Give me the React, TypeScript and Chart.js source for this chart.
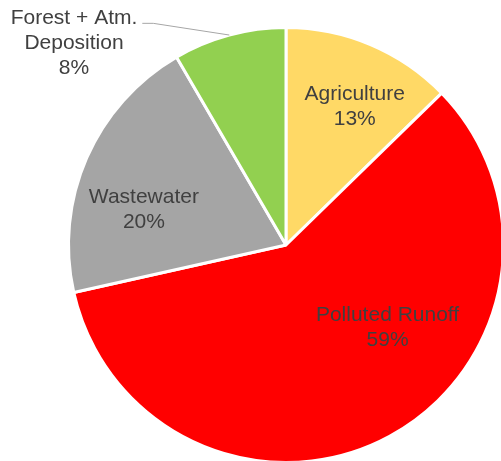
import React, { useEffect, useRef } from "react";
import { Chart, registerables } from "chart.js";

Chart.register(...registerables);

const categories = ["Agriculture", "Polluted Runoff", "Wastewater", "Forest + Atm. Deposition"];
const labelLines = [["Agriculture"], ["Polluted Runoff"], ["Wastewater"], ["Forest + Atm.", "Deposition"]];
const values = [12.7, 58.8, 20.1, 8.4];
const colors = ["#FFD966", "#FF0000", "#A5A5A5", "#92D050"];

// label placement: angle offset from slice middle (deg), radial fraction of outer radius
const placement = [
  { dAngle: 3.3, frac: 0.717, leader: false },
  { dAngle: -23.0, frac: 0.597, leader: false },
  { dAngle: -9.0, frac: 0.675, leader: false },
  { dAngle: -31.1, frac: 1.35, leader: true },
];

const labelPlugin = {
  id: "pieLabels",
  afterDatasetsDraw(chart: any) {
    const ctx = chart.ctx;
    const meta = chart.getDatasetMeta(0);
    const total = values.reduce((a, b) => a + b, 0);
    ctx.save();
    ctx.font = '21px "Liberation Sans", Arial, sans-serif';
    ctx.fillStyle = "#404040";
    ctx.textAlign = "center";
    ctx.textBaseline = "alphabetic";
    meta.data.forEach((arc: any, i: number) => {
      const { x, y, startAngle, endAngle, outerRadius } = arc.getProps(
        ["x", "y", "startAngle", "endAngle", "outerRadius"],
        true
      );
      const mid = (startAngle + endAngle) / 2;
      const p = placement[i];
      const a = mid + (p.dAngle * Math.PI) / 180;
      const cx = x + Math.cos(a) * outerRadius * p.frac;
      const cy = y + Math.sin(a) * outerRadius * p.frac;
      const lines = [...labelLines[i], Math.round((values[i] / total) * 100) + "%"];
      const n = lines.length;
      const b1 = cy + 7.5 - 12.5 * (n - 1);
      lines.forEach((t, k) => ctx.fillText(t, cx, b1 + 25 * k));
      if (p.leader) {
        const w = ctx.measureText(lines[0]).width;
        const ex = cx + w / 2 + 5;
        const ey = b1 - 1;
        ctx.strokeStyle = "#A6A6A6";
        ctx.lineWidth = 1;
        ctx.beginPath();
        ctx.moveTo(x + Math.cos(mid) * outerRadius, y + Math.sin(mid) * outerRadius);
        ctx.lineTo(ex + 11, ey);
        ctx.lineTo(ex, ey);
        ctx.stroke();
      }
    });
    ctx.restore();
  },
};

export default function App() {
  const ref = useRef<HTMLCanvasElement>(null);
  useEffect(() => {
    document.body.style.margin = "0";
    document.body.style.overflow = "hidden";
    const chart = new Chart(ref.current!, {
      type: "pie",
      data: {
        labels: categories,
        datasets: [
          {
            data: values,
            backgroundColor: colors,
            borderColor: "#FFFFFF",
            borderWidth: 3,
          },
        ],
      },
      options: {
        responsive: false,
        animation: false,
        devicePixelRatio: 1,
        layout: { padding: { left: 67, top: 26, right: 0, bottom: 0 } },
        plugins: {
          legend: { display: false },
          tooltip: { enabled: false },
        },
      },
      plugins: [labelPlugin],
    });
    return () => chart.destroy();
  }, []);
  return (
    <div style={{ width: 501, height: 461, overflow: "hidden", position: "relative", background: "#fff" }}>
      <canvas ref={ref} width={505} height={464} style={{ display: "block" }} />
    </div>
  );
}
